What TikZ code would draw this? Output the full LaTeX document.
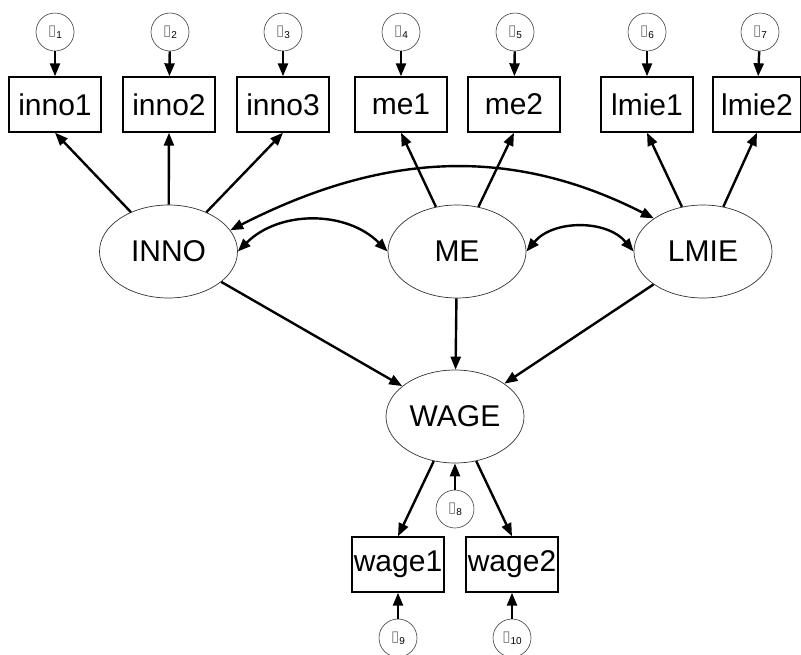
\documentclass[tikz,border=0pt]{standalone}
\usepackage{fontspec}
\setmainfont{Liberation Sans}
\newfontfamily\symfont{DejaVu Sans}
\usetikzlibrary{arrows.meta,shapes.geometric}
\newcommand{\errlab}[1]{{\color{black!55}\fontsize{15}{15}\selectfont\symfont ▯}\raisebox{-3.5pt}{\fontsize{10}{10}\selectfont #1}}
\begin{document}
\begin{tikzpicture}[x=1pt, y=1pt,
    obs/.style={draw, line width=1.4pt, minimum width=92, minimum height=55, inner sep=0pt, font=\fontsize{30}{30}\selectfont},
    lat/.style={draw, ellipse, line width=0.7pt, black!80, text=black, minimum width=138, minimum height=93, inner sep=0pt, font=\fontsize{30}{30}\selectfont},
    err/.style={draw, circle, line width=0.6pt, black!75, text=black, minimum size=38, inner sep=0pt},
    path/.style={line width=2.4pt, -{Triangle[length=13pt,width=10pt]}},
    cov/.style={line width=2.4pt, {Triangle[length=13pt,width=10pt]}-{Triangle[length=13pt,width=10pt]}}]
      \useasboundingbox (0,0) rectangle (801,-654);
      \draw
        (55,-32) node[err] (e1){\errlab{1}}
        (170,-32) node[err] (e2){\errlab{2}}
        (283,-32) node[err] (e3){\errlab{3}}
        (401,-32) node[err] (e4){\errlab{4}}
        (515,-32) node[err] (e5){\errlab{5}}
        (647,-32) node[err] (e6){\errlab{6}}
        (760,-32) node[err] (e7){\errlab{7}}
        (55,-104.5) node[obs] (inno1){inno1}
        (169,-104.5) node[obs] (inno2){inno2}
        (283,-104.5) node[obs] (inno3){inno3}
        (401,-104.5) node[obs] (me1){me1}
        (514,-104.5) node[obs] (me2){me2}
        (647,-104.5) node[obs] (lmie1){lmie1}
        (757,-104.5) node[obs, minimum width=88] (lmie2){lmie2}
        (168.5,-251.5) node[lat] (INNO){INNO}
        (457,-251.5) node[lat] (ME){ME}
        (703,-251.5) node[lat] (LMIE){LMIE}
        (455,-416.5) node[lat] (WAGE){WAGE}
        (455,-509) node[err] (e8){\errlab{8}}
        (398,-564.5) node[obs] (wage1){wage1}
        (512,-564.5) node[obs] (wage2){wage2}
        (398,-638) node[err] (e9){\errlab{9}}
        (512,-638) node[err] (e10){\errlab{10}};
      \begin{scope}[path]
        \draw (e1) to (inno1);
        \draw (e2) to (inno2);
        \draw (e3) to (inno3);
        \draw (e4) to (me1);
        \draw (e5) to (me2);
        \draw (e6) to (lmie1);
        \draw (e7) to (lmie2);
        \draw (INNO) to (inno1.south);
        \draw (INNO) to (inno2.south);
        \draw (INNO) to (inno3.south);
        \draw (ME) to (me1.south);
        \draw (ME) to (me2.south);
        \draw (LMIE) to (lmie1.south);
        \draw (LMIE) to (lmie2.south);
        \draw (INNO) to (WAGE);
        \draw (ME) to (WAGE);
        \draw (LMIE) to (WAGE);
        \draw (e8) to (WAGE);
        \draw (WAGE) to (wage1.north);
        \draw (WAGE) to (wage2.north);
        \draw (e9) to (wage1);
        \draw (e10) to (wage2);
      \end{scope}
      \begin{scope}[cov]
        \draw (INNO.east) to[out=45, in=135] (ME.west);
        \draw (ME.east) to[out=50, in=130] (LMIE.west);
        \draw (INNO.19) to[out=27, in=153] (LMIE.146);
      \end{scope}
    \end{tikzpicture}
\end{document}
